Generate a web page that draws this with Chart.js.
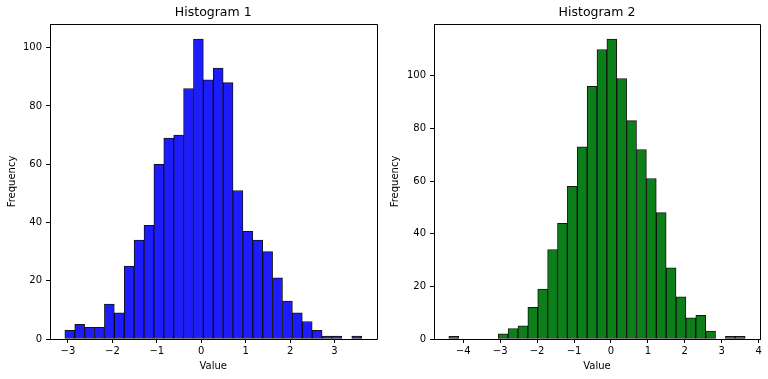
<!DOCTYPE html>
<html><head><meta charset="utf-8">
<script src="https://cdn.jsdelivr.net/npm/chart.js@4.4.1/dist/chart.umd.min.js"></script>
<style>
html,body{margin:0;padding:0;background:#fff;}
#wrap{position:relative;width:768px;height:379px;overflow:hidden;}
.cell{position:absolute;top:0;width:384px;height:379px;}
</style></head><body>
<div id="wrap">
<div class="cell" style="left:0"><canvas id="c1" width="384" height="379"></canvas></div>
<div class="cell" style="left:384px"><canvas id="c2" width="384" height="379"></canvas></div>
</div>
<script>
// ---- data ----
const titles = ['Histogram 1', 'Histogram 2'];
const xLabel = 'Value';
const yLabel = 'Frequency';
const counts1 = [3, 5, 4, 4, 12, 9, 25, 34, 39, 60, 69, 70, 86, 103, 89, 93, 88, 51, 37, 34, 30, 21, 13, 9, 6, 3, 1, 1, 0, 1];
const counts2 = [1, 0, 0, 0, 0, 2, 4, 5, 12, 19, 34, 44, 58, 73, 96, 110, 114, 99, 83, 72, 61, 48, 27, 16, 8, 9, 3, 0, 1, 1];
const binRange1 = [-3.07, 3.61];
const binRange2 = [-4.39, 3.635];
const xTicks1 = [-3, -2, -1, 0, 1, 2, 3];
const xTicks2 = [-4, -3, -2, -1, 0, 1, 2, 3, 4];
const yTicks = [0, 20, 40, 60, 80, 100];

Chart.defaults.font.family = 'DejaVu Sans';
Chart.defaults.color = '#000';

const fmt = v => String(v).replace('-', '\u2212');

const framePlugin = {
  id: 'frame',
  afterDraw(chart) {
    const a = chart.chartArea, ctx = chart.ctx;
    ctx.save();
    ctx.strokeStyle = '#000';
    ctx.lineWidth = 1;
    ctx.beginPath();
    ctx.moveTo(Math.round(a.left) + 0.5, Math.round(a.bottom) + 0.5);
    ctx.lineTo(Math.round(a.left) + 0.5, Math.round(a.top) + 0.5);
    ctx.lineTo(Math.round(a.right) + 0.5, Math.round(a.top) + 0.5);
    ctx.lineTo(Math.round(a.right) + 0.5, Math.round(a.bottom) + 0.5);
    ctx.lineTo(Math.round(a.left) + 0.5, Math.round(a.bottom) + 0.5);
    ctx.stroke();
    ctx.restore();
  }
};

function makeChart(id, title, counts, range, xTicks, color, padRight, yTitlePad) {
  const lo = range[0], hi = range[1];
  const w = (hi - lo) / counts.length;
  const pts = counts.map((c, i) => ({ x: lo + (i + 0.5) * w, y: c }));
  const span = hi - lo;
  const ymax = Math.max(...counts) * 1.05;
  const tickFont = { family: 'DejaVu Sans', size: 10 };
  return new Chart(document.getElementById(id), {
    type: 'bar',
    data: { datasets: [{
      data: pts, backgroundColor: color, borderColor: 'rgba(0,0,0,0.92)',
      borderWidth: 1, borderSkipped: false, barPercentage: 1, categoryPercentage: 1
    }]},
    options: {
      responsive: false, animation: false, devicePixelRatio: 1,
      layout: { padding: { left: 0, right: padRight, top: 0, bottom: 0 } },
      plugins: {
        legend: { display: false },
        tooltip: { enabled: false },
        title: { display: true, text: title, fullSize: false, color: '#000',
          font: { family: 'DejaVu Sans', size: 12.5, weight: 'normal' },
          padding: { top: 5, bottom: 4 } }
      },
      scales: {
        x: {
          type: 'linear', min: lo - 0.05 * span, max: hi + 0.05 * span,
          offset: false,
          grid: { display: true, drawOnChartArea: false, drawTicks: true, tickLength: 4, color: '#000', offset: false },
          border: { display: true, color: '#000', width: 1 },
          ticks: { font: tickFont, color: '#000', padding: 2, maxRotation: 0, autoSkip: false, callback: v => fmt(v) },
          afterBuildTicks: s => { s.ticks = xTicks.map(v => ({ value: v })); },
          afterFit: s => { s.height = 40; },
          title: { display: true, text: xLabel, color: '#000', font: tickFont, padding: { top: 0, bottom: 7 } }
        },
        y: {
          type: 'linear', min: 0, max: ymax,
          grid: { display: true, drawOnChartArea: false, drawTicks: true, tickLength: 4, color: '#000' },
          border: { display: true, color: '#000', width: 1 },
          ticks: { font: tickFont, color: '#000', padding: 4, autoSkip: false, callback: v => fmt(v) },
          afterBuildTicks: s => { s.ticks = yTicks.map(v => ({ value: v })); },
          afterFit: s => { s.width = 50; },
          title: { display: true, text: yLabel, color: '#000', font: tickFont, padding: { top: yTitlePad, bottom: 0 } }
        }
      }
    },
    plugins: [framePlugin]
  });
}

makeChart('c1', titles[0], counts1, binRange1, xTicks1, 'rgb(28,28,255)', 7.5, 6);
makeChart('c2', titles[1], counts2, binRange2, xTicks2, 'rgb(12,126,26)', 8, 5);
</script>
</body></html>
